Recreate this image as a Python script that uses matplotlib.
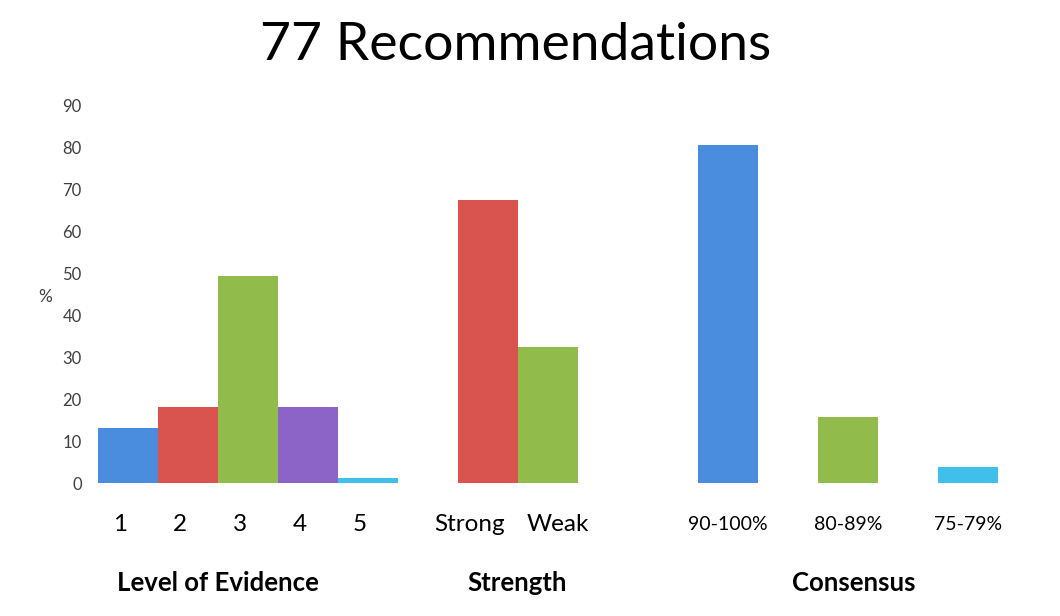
import numpy as np
import matplotlib.pyplot as plt

plt.rcParams['font.family'] = ['Lato', 'DejaVu Sans']

# percentages of the 77 recommendations
evidence_labels = ['1', '2', '3', '4', '5']
evidence_values = [13.0, 18.2, 49.4, 18.2, 1.3]
strength_labels = ['Strong', 'Weak']
strength_values = [67.5, 32.5]
consensus_labels = ['90-100%', '80-89%', '75-79%']
consensus_values = [80.5, 15.6, 3.9]
group_names = ['Level of Evidence', 'Strength', 'Consensus']

blue = '#4a8ddf'
red = '#d9544f'
green = '#91bc4b'
purple = '#8c63c6'
cyan = '#3fbfe9'

W, H = 1060, 616
fig = plt.figure(figsize=(W / 100, H / 100), dpi=100)
ax = fig.add_axes([90 / W, 1 - 483 / H, 950 / W, 378 / H])

x_ev = np.arange(5)
x_st = np.array([6, 7])
x_co = np.array([10, 12, 14])

ax.bar(x_ev, evidence_values, width=1.0, color=[blue, red, green, purple, cyan])
ax.bar(x_st, strength_values, width=1.0, color=[red, green])
ax.bar(x_co, consensus_values, width=1.0, color=[blue, green, cyan])

ax.set_xlim(-0.633, 15.2)
ax.set_ylim(0, 90)
ax.set_yticks(range(0, 91, 10))
ax.tick_params(axis='y', length=0, pad=6, labelsize=12, labelcolor='#404040')
ax.set_xticks([])
for s in ax.spines.values():
    s.set_visible(False)

ax.text(-1.38, 44.3, '%', ha='center', va='center', fontsize=12.5, color='#404040',
        transform=ax.transData, clip_on=False)

trans = ax.get_xaxis_transform()
for x, lab in zip(x_ev, evidence_labels):
    ax.text(x - 0.13, -0.11, lab, ha='center', va='center', fontsize=17.5, transform=trans)
ax.text(x_st[0] + 0.28, -0.11, strength_labels[0], ha='right', va='center', fontsize=17.5, transform=trans)
ax.text(x_st[1] - 0.35, -0.11, strength_labels[1], ha='left', va='center', fontsize=17.5, transform=trans)
for x, lab in zip(x_co, consensus_labels):
    ax.text(x, -0.11, lab, ha='center', va='center', fontsize=14, transform=trans)

group_x = [x_ev.mean() - 0.5, x_st.mean() - 0.02, x_co.mean() + 0.1]
for x, name in zip(group_x, group_names):
    ax.text(x, -0.265, name, ha='center', va='center', fontsize=18.5, fontweight='bold', transform=trans)

fig.text(516 / W, 1 - 45 / H, '77 Recommendations', ha='center', va='center', fontsize=38.5)

fig.savefig('out.png', dpi=100, facecolor='white')
